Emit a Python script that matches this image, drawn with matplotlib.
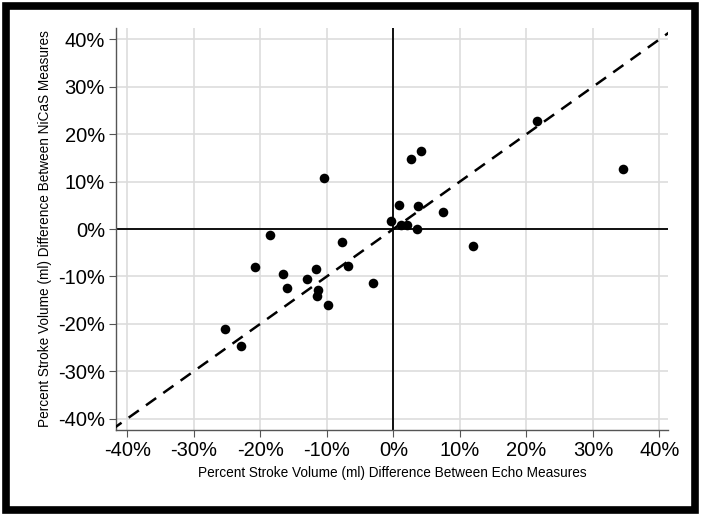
import matplotlib
matplotlib.use("Agg")
import matplotlib.pyplot as plt
from matplotlib.patches import Rectangle
from matplotlib.ticker import FuncFormatter

# percent difference, echo (x) vs NiCaS (y)
echo = [21.6, 34.5, 4.1, 2.7, -10.4, 0.9, 3.7, 7.4, -0.3, 1.1, 2.1, 3.6, 12.0,
        -18.6, -7.7, -20.8, -6.8, -16.6, -11.7, -13.0, -16.0, -11.4, -11.5,
        -9.9, -3.1, -25.3, -22.9]
nicas = [22.8, 12.7, 16.5, 14.7, 10.8, 5.0, 4.9, 3.6, 1.7, 0.8, 0.8, -0.1, -3.6,
         -1.2, -2.7, -8.0, -7.8, -9.4, -8.5, -10.6, -12.5, -12.9, -14.2,
         -16.1, -11.4, -21.0, -24.6]
ticks = [-40, -30, -20, -10, 0, 10, 20, 30, 40]

plt.rcParams['font.family'] = ['Liberation Sans', 'DejaVu Sans']

fig = plt.figure(figsize=(7.01, 5.16), dpi=100)
ax = fig.add_axes([0.1655, 0.1667, 0.7875, 0.779])

ax.set_xlim(-41.7, 41.3)
ax.set_ylim(-42.4, 42.4)
ax.set_xticks(ticks)
ax.set_yticks(ticks)
ax.grid(True, color='#dddddd', lw=1.2)
ax.set_axisbelow(True)

ax.axhline(0, color='black', lw=1.3, zorder=2)
ax.axvline(0, color='black', lw=1.3, zorder=2)
ax.plot([-42.4, 42.4], [-42.4, 42.4], color='black', lw=1.8, ls=(0, (5, 3.5)), zorder=3)
ax.scatter(echo, nicas, s=48, color='black', zorder=4, linewidths=0)

fmt = FuncFormatter(lambda v, p: '%d%%' % v)
ax.xaxis.set_major_formatter(fmt)
ax.yaxis.set_major_formatter(fmt)
ax.tick_params(direction='out', length=5, color='#555555', labelsize=14.5, pad=3)
for s in ['top', 'right']:
    ax.spines[s].set_visible(False)
for s in ['left', 'bottom']:
    ax.spines[s].set_color('#555555')
    ax.spines[s].set_linewidth(1.0)

ax.set_xlabel('Percent Stroke Volume (ml) Difference Between Echo Measures', fontsize=9.8, labelpad=4)
ax.set_ylabel('Percent Stroke Volume (ml) Difference Between NiCaS Measures', fontsize=9.8, labelpad=4)

fig.patches.append(Rectangle((0.0085, 0.012), 0.983, 0.977, transform=fig.transFigure,
                             fill=False, edgecolor='black', lw=5.5))

fig.savefig('out.png', dpi=100)
